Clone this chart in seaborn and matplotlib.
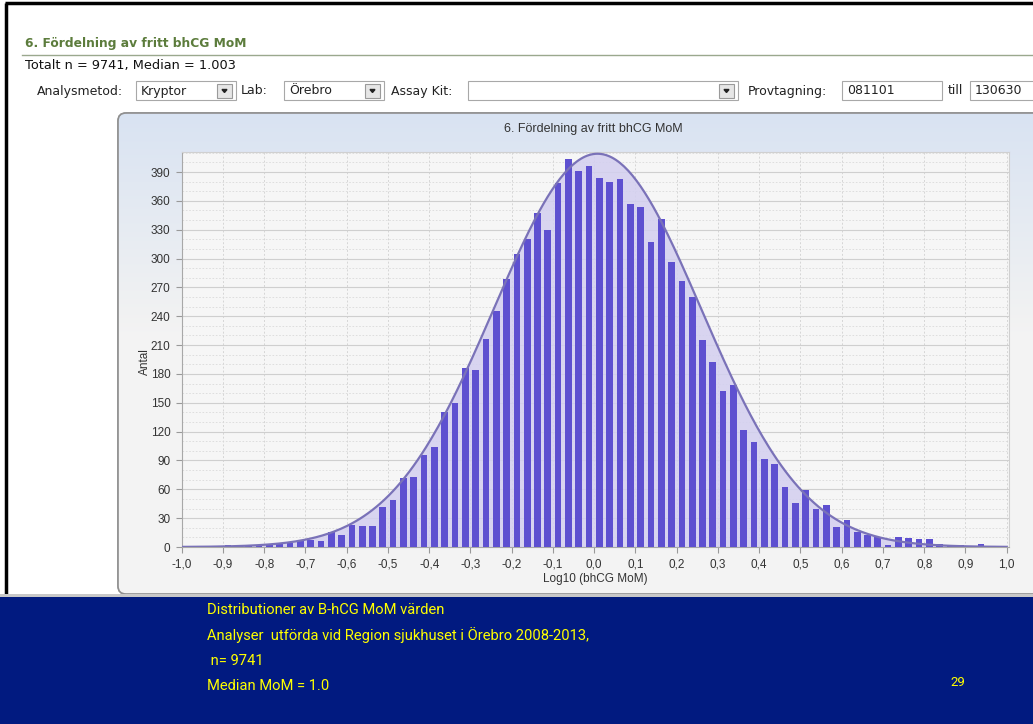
import numpy as np
import pandas as pd
import matplotlib
matplotlib.use("Agg")
import matplotlib.pyplot as plt
import seaborn as sns
from matplotlib.patches import FancyBboxPatch, Rectangle

# -------------------------------
# Data
# -------------------------------
bin_edges = np.round(np.arange(-1.0, 1.0001, 0.025), 4)
bin_centers = bin_edges[:-1] + 0.0125

counts = [
    0, 0, 0, 0, 2, 2, 1, 2, 2, 3,
    4, 6, 7, 6, 16, 13, 23, 22, 22, 42,
    49, 72, 73, 96, 104, 140, 150, 186, 184, 216,
    245, 279, 305, 320, 347, 330, 379, 404, 391, 396,
    384, 380, 383, 357, 354, 317, 341, 296, 277, 260,
    215, 192, 162, 169, 122, 109, 92, 86, 62, 46,
    59, 40, 44, 21, 28, 16, 13, 10, 2, 10,
    9, 8, 8, 3, 1, 2, 1, 3, 1, 0,
]

# normal curve overlay, parameters
curve_mean = 0.008
curve_sd = 0.251
curve_peak = 409

y_ticks = list(range(0, 391, 30))
x_ticks = np.round(np.arange(-1.0, 1.0001, 0.1), 1) + 0.0
x_tick_labels = [f"{v:.1f}".replace(".", ",") for v in x_ticks]

header = "6. Fördelning av fritt bhCG MoM"
summary = "Totalt n = 9741, Median = 1.003"
chart_title = "6. Fördelning av fritt bhCG MoM"
x_label = "Log10 (bhCG MoM)"
y_label = "Antal"
caption_lines = [
    "Distributioner av B-hCG MoM värden",
    "Analyser  utförda vid Region sjukhuset i Örebro 2008-2013,",
    " n= 9741",
    "Median MoM = 1.0",
]
page_no = "29"

hist_df = pd.DataFrame({"center": bin_centers, "count": counts})

curve_x = np.linspace(-1.0, 1.0, 400)
curve_y = curve_peak * np.exp(-0.5 * ((curve_x - curve_mean) / curve_sd) ** 2)

# -------------------------------
# Figure + pixel-space background
# -------------------------------
W, H = 1033, 724
fig = plt.figure(figsize=(W / 100, H / 100), dpi=100)
fig.patch.set_facecolor("white")

bg = fig.add_axes([0, 0, 1, 1])
bg.set_xlim(0, W)
bg.set_ylim(H, 0)
bg.axis("off")

ui_font = "DejaVu Sans"
ui_size = 9

# slide frame (top + left)
bg.plot([5, W], [3, 3], color="black", lw=2.5, solid_capstyle="butt")
bg.plot([5.5, 5.5], [3, 596], color="black", lw=2.5, solid_capstyle="butt")

bg.text(25, 44, header, fontsize=8.8, fontweight="bold", color="#5c7c3c",
        family=ui_font, va="center")
bg.plot([22, W], [55, 55], color="#9aa88e", lw=1)
bg.text(25, 65, summary, fontsize=9.3, color="#111111", family=ui_font, va="center")

# control row
row_y = 91


def combo(x0, x1, text, button=True):
    bg.add_patch(Rectangle((x0, 81), x1 - x0, 19, facecolor="white",
                           edgecolor="#a8a8a8", lw=0.8))
    if text:
        bg.text(x0 + 5, row_y, text, fontsize=ui_size, color="#222222",
                family=ui_font, va="center")
    if button:
        bx = x1 - 19
        bg.add_patch(Rectangle((bx, 84), 15, 14, facecolor="#e6e6e6",
                               edgecolor="#9a9a9a", lw=0.8))
        bg.fill([bx + 5, bx + 10, bx + 7.5], [89.5, 89.5, 92.5], color="#222222")


def label(x, text):
    bg.text(x, row_y, text, fontsize=ui_size, color="#222222", family=ui_font, va="center")


label(37, "Analysmetod:")
combo(136, 236, "Kryptor")
label(241, "Lab:")
combo(284, 384, "Örebro")
label(391, "Assay Kit:")
combo(468, 738, "")
label(748, "Provtagning:")
combo(842, 942, "081101", button=False)
label(948, "till")
combo(970, 1045, "130630", button=False)

# chart panel with gradient
panel = FancyBboxPatch((118, 113), 960, 481, boxstyle="round,pad=0,rounding_size=8",
                       facecolor="#f3f3f3", edgecolor="#9a9a9a", lw=1)
bg.add_patch(panel)
grad = np.linspace(0, 1, 256).reshape(-1, 1)
grad = np.clip(grad * 2.2, 0, 1)
top_c = np.array([0.85, 0.89, 0.95])
bot_c = np.array([0.953, 0.953, 0.953])
img = top_c[None, None, :] * (1 - grad[:, :, None]) + bot_c[None, None, :] * grad[:, :, None]
im = bg.imshow(img, extent=(118, 1078, 594, 113), aspect="auto", zorder=1)
im.set_clip_path(panel)
bg.add_patch(FancyBboxPatch((118, 113), 960, 481, boxstyle="round,pad=0,rounding_size=8",
                            facecolor="none", edgecolor="#8f8f8f", lw=1.2, zorder=2))

# bottom caption band
bg.add_patch(Rectangle((0, 594), W, 4, facecolor="#c8c8c8", edgecolor="none", zorder=3))
bg.add_patch(Rectangle((0, 597), W, H - 597, facecolor="#011a80", edgecolor="none", zorder=3))
cap_font = ["Roboto", "DejaVu Sans"]
for i, line in enumerate(caption_lines):
    bg.text(207, 610 + i * 25.3, line, fontsize=10.6, color="#ffff00",
            family=cap_font, style="normal", va="center", zorder=4)
bg.text(950, 683, page_no, fontsize=9.5, color="#ffff00", family=cap_font,
        style="normal", va="center", zorder=4)

# -------------------------------
# Histogram axes
# -------------------------------
left_px, right_px, top_px, bot_px = 181.7, 1009.3, 151.5, 547.0
ax = fig.add_axes([left_px / W, (H - bot_px) / H, (right_px - left_px) / W,
                   (bot_px - top_px) / H])
ax.set_facecolor("#f6f6f6")

sns.histplot(data=hist_df, x="center", weights="count", bins=list(bin_edges),
             shrink=0.65, color="#5e50d0", alpha=1, linewidth=0, ax=ax)
for p in ax.patches:
    p.set_zorder(3)

ax.fill_between(curve_x, 0, curve_y, color="#d3cff0", alpha=0.85, lw=0, zorder=2)
sns.lineplot(x=curve_x, y=curve_y, color="#7a72b8", lw=1.6, ax=ax, zorder=4)

ax.set_xlim(-1.0, 1.0 + (right_px - 1006.7) / 412.0)
ax.set_ylim(0, (bot_px - top_px) / 0.9615)

ax.set_yticks(y_ticks)
ax.set_yticks(range(0, 411, 10), minor=True)
ax.set_xticks(x_ticks)
ax.set_xticklabels(x_tick_labels)

tick_font = "Liberation Sans"
for lab in ax.get_xticklabels() + ax.get_yticklabels():
    lab.set_family(tick_font)
    lab.set_fontsize(8.5)
    lab.set_color("#333333")

ax.grid(axis="y", which="major", color="#cfcfcf", lw=0.8, zorder=0)
ax.grid(axis="y", which="minor", color="#dadada", lw=0.6, ls=(0, (2, 2)), zorder=0)
ax.grid(axis="x", which="major", color="#d6d6d6", lw=0.7, ls=(0, (2, 2)), zorder=0)
ax.set_axisbelow(True)

ax.tick_params(axis="both", which="major", length=4, color="#999999", pad=4)
ax.tick_params(axis="y", which="minor", length=0)
for side in ["top", "right"]:
    ax.spines[side].set_color("#d0d0d0")
    ax.spines[side].set_linewidth(0.8)
for side in ["left", "bottom"]:
    ax.spines[side].set_color("#a8a8a8")
    ax.spines[side].set_linewidth(0.8)

ax.set_xlabel(x_label, fontsize=8.5, family=tick_font, color="#333333", labelpad=2)
ax.set_ylabel(y_label, fontsize=8.5, family=tick_font, color="#333333")
ax.yaxis.set_label_coords(-0.037, 0.47)

bg.text((left_px + right_px) / 2 - 2, 129, chart_title, fontsize=9, family=tick_font,
        color="#333333", ha="center", va="center", zorder=5)

fig.savefig("out.png", dpi=100)
